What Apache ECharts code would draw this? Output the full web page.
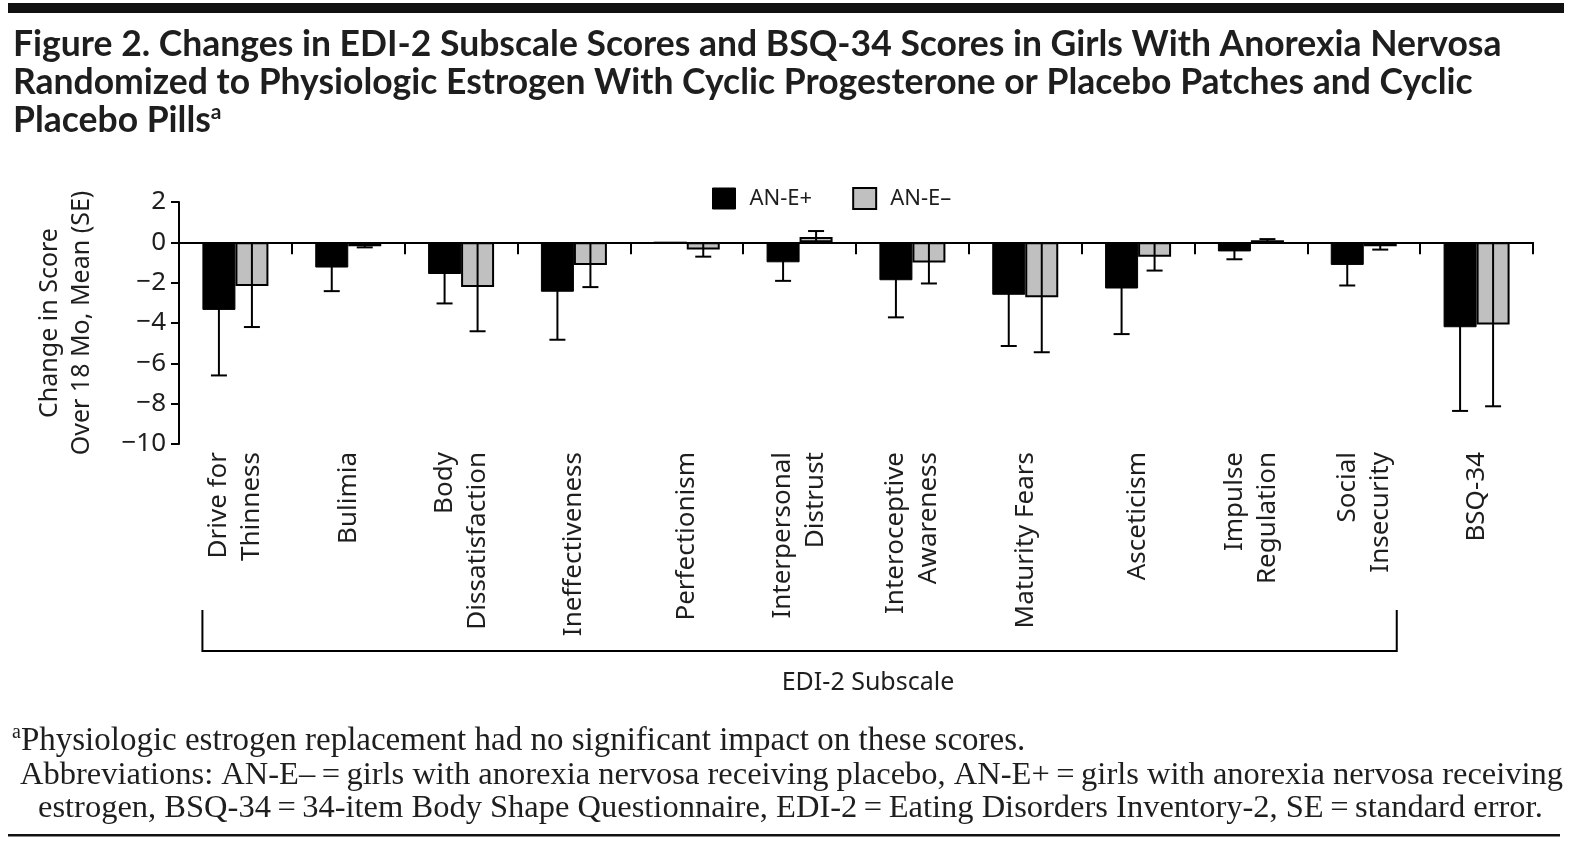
<!DOCTYPE html>
<html><head><meta charset="utf-8">
<script src="https://cdn.jsdelivr.net/npm/echarts@6/dist/echarts.min.js"></script>
<style>html,body{margin:0;padding:0;background:#fff}#c{width:1570px;height:843px}</style>
</head><body><div id="c"></div>
<script>
// ---- data ----
const categories = ['Drive for\nThinness', 'Bulimia', 'Body\nDissatisfaction', 'Ineffectiveness', 'Perfectionism',
  'Interpersonal\nDistrust', 'Interoceptive\nAwareness', 'Maturity Fears', 'Asceticism', 'Impulse\nRegulation',
  'Social\nInsecurity', 'BSQ-34'];
const estrogenMean = [-3.35, -1.25, -1.57, -2.45, 0, -0.99, -1.88, -2.60, -2.29, -0.45, -1.12, -4.21];
const estrogenSE   = [3.25, 1.17, 1.46, 2.38, 0, 0.92, 1.84, 2.54, 2.26, 0.39, 1.02, 4.15];
const placeboMean  = [-2.16, -0.20, -2.22, -1.12, -0.36, 0.26, -1.00, -2.72, -0.71, 0.10, -0.20, -4.08];
const placeboSE    = [2.04, 0.05, 2.19, 1.10, 0.35, 0.30, 1.04, 2.73, 0.69, 0.06, 0.16, 4.05];
const yMin = -10, yMax = 2, yInterval = 2;
const seriesNames = ['AN-E+', 'AN-E\u2013'];
const bracketFrom = 0, bracketTo = 10; // EDI-2 subscale categories

const BAR_W = 33;
const FONT = 'Noto Sans';
const INK = '#1e1e1e';

const chart = echarts.init(document.getElementById('c'), null, {renderer: 'canvas'});

function errRender(offset) {
  return function (params, api) {
    const i = api.value(0), m = api.value(1), se = api.value(2);
    if (!se) return null;
    const end = m >= 0 ? m + se : m - se;
    const p0 = api.coord([i, 0]);
    const p1 = api.coord([i, end]);
    const x = p0[0] + offset;
    return {
      type: 'group',
      children: [
        {type: 'line', shape: {x1: x, y1: p0[1], x2: x, y2: p1[1]}, style: {stroke: '#000', lineWidth: 2}},
        {type: 'line', shape: {x1: x - 8, y1: p1[1], x2: x + 8, y2: p1[1]}, style: {stroke: '#000', lineWidth: 2}}
      ]
    };
  };
}

const option = {
  backgroundColor: '#fff',
  animation: false,
  title: {
    text: 'Figure 2. Changes in EDI-2 Subscale Scores and BSQ-34 Scores in Girls With Anorexia Nervosa\nRandomized to Physiologic Estrogen With Cyclic Progesterone or Placebo Patches and Cyclic\nPlacebo Pills{sup|a}',
    left: 8, top: 21,
    textStyle: {
      fontFamily: 'Lato', fontWeight: 'bold', fontSize: 35.5, lineHeight: 38, color: INK,
      rich: {sup: {fontFamily: 'Lato', fontWeight: 'bold', fontSize: 21, lineHeight: 38, verticalAlign: 'top', color: INK}}
    }
  },
  legend: {
    top: 182, left: 707,
    itemWidth: 23, itemHeight: 21, itemGap: 40,
    textStyle: {fontFamily: FONT, fontSize: 22, color: INK, padding: [0, 0, 0, 9]},
    data: [
      {name: seriesNames[0], icon: 'rect', itemStyle: {color: '#000', borderColor: '#000', borderWidth: 1}},
      {name: seriesNames[1], icon: 'rect', itemStyle: {color: '#c0c0c0', borderColor: '#000', borderWidth: 2}}
    ]
  },
  grid: {left: 179, right: 37, top: 202, bottom: 399, containLabel: false, outerBoundsMode: 'none'},
  xAxis: [
    {
      type: 'category', data: categories, boundaryGap: true,
      axisLine: {onZero: true, lineStyle: {color: '#000', width: 2}},
      axisTick: {show: true, interval: 0, length: 12, lineStyle: {color: '#000', width: 2}},
      axisLabel: {show: false}, splitLine: {show: false}
    },
    {
      type: 'category', data: categories, position: 'bottom', boundaryGap: true,
      axisLine: {show: false, onZero: false}, axisTick: {show: false},
      axisLabel: {show: true, interval: 0, rotate: 90, margin: 8, fontFamily: FONT, fontSize: 26, lineHeight: 33, color: INK},
      splitLine: {show: false}
    }
  ],
  yAxis: {
    type: 'value', min: yMin, max: yMax, interval: yInterval,
    name: 'Change in Score\nOver 18 Mo, Mean (SE)', nameLocation: 'middle', nameRotate: 90, nameGap: 81,
    nameTextStyle: {fontFamily: FONT, fontSize: 25, lineHeight: 32, color: INK},
    axisLine: {show: true, lineStyle: {color: '#000', width: 2}},
    axisTick: {show: true, length: 8, lineStyle: {color: '#000', width: 2}},
    axisLabel: {margin: 13, fontFamily: FONT, fontSize: 26, color: INK, formatter: v => String(v).replace('-', '\u2212')},
    splitLine: {show: false}
  },
  series: [
    {
      name: seriesNames[0], type: 'bar', data: estrogenMean, barWidth: BAR_W, barGap: '0%',
      itemStyle: {color: '#000', borderColor: '#000', borderWidth: 1}, z: 2
    },
    {
      name: seriesNames[1], type: 'bar', data: placeboMean, barWidth: BAR_W, barGap: '0%',
      itemStyle: {color: '#c0c0c0', borderColor: '#000', borderWidth: 2}, z: 2
    },
    {
      type: 'custom', renderItem: errRender(-BAR_W / 2), z: 3, silent: true,
      data: estrogenMean.map((m, i) => [i, m, estrogenSE[i]]), encode: {x: 0, y: 1}
    },
    {
      type: 'custom', renderItem: errRender(BAR_W / 2), z: 3, silent: true,
      data: placeboMean.map((m, i) => [i, m, placeboSE[i]]), encode: {x: 0, y: 1}
    }
  ]
};
chart.setOption(option);

// bracket + footnotes
const c0 = chart.convertToPixel({xAxisIndex: 0}, bracketFrom);
const c1 = chart.convertToPixel({xAxisIndex: 0}, bracketTo);
const bx0 = c0 - BAR_W, bx1 = c1 + BAR_W;
const serif = 'Liberation Serif';
chart.setOption({
  graphic: [
    {type: 'rect', shape: {x: 8, y: 3, width: 1556, height: 10}, style: {fill: '#111'}},
    {type: 'polyline', shape: {points: [[bx0, 610], [bx0, 651], [bx1, 651], [bx1, 610]]}, style: {stroke: '#000', lineWidth: 2, fill: null}},
    {type: 'text', x: 868, y: 683, style: {text: 'EDI-2 Subscale', fontFamily: FONT, fontSize: 25, fill: INK, align: 'center', verticalAlign: 'middle'}},
    {type: 'text', x: 12, y: 741, style: {
      text: '{sup|a}Physiologic estrogen replacement had no significant impact on these scores.',
      fontFamily: serif, fontSize: 33, fill: INK, verticalAlign: 'middle', lineHeight: 36,
      rich: {sup: {fontFamily: serif, fontSize: 20, verticalAlign: 'top', lineHeight: 36, fill: INK}}
    }},
    {type: 'text', x: 20, y: 775, style: {
      text: 'Abbreviations: AN-E\u2013\u2009=\u2009girls with anorexia nervosa receiving placebo, AN-E+\u2009=\u2009girls with anorexia nervosa receiving',
      fontFamily: serif, fontSize: 32.5, fill: INK, verticalAlign: 'middle'
    }},
    {type: 'text', x: 38, y: 808, style: {
      text: 'estrogen, BSQ-34\u2009=\u200934-item Body Shape Questionnaire, EDI-2\u2009=\u2009Eating Disorders Inventory-2, SE\u2009=\u2009standard error.',
      fontFamily: serif, fontSize: 32.5, fill: INK, verticalAlign: 'middle'
    }},
    {type: 'rect', shape: {x: 8, y: 834, width: 1552, height: 2.5}, style: {fill: '#111'}}
  ]
});
</script></body></html>
